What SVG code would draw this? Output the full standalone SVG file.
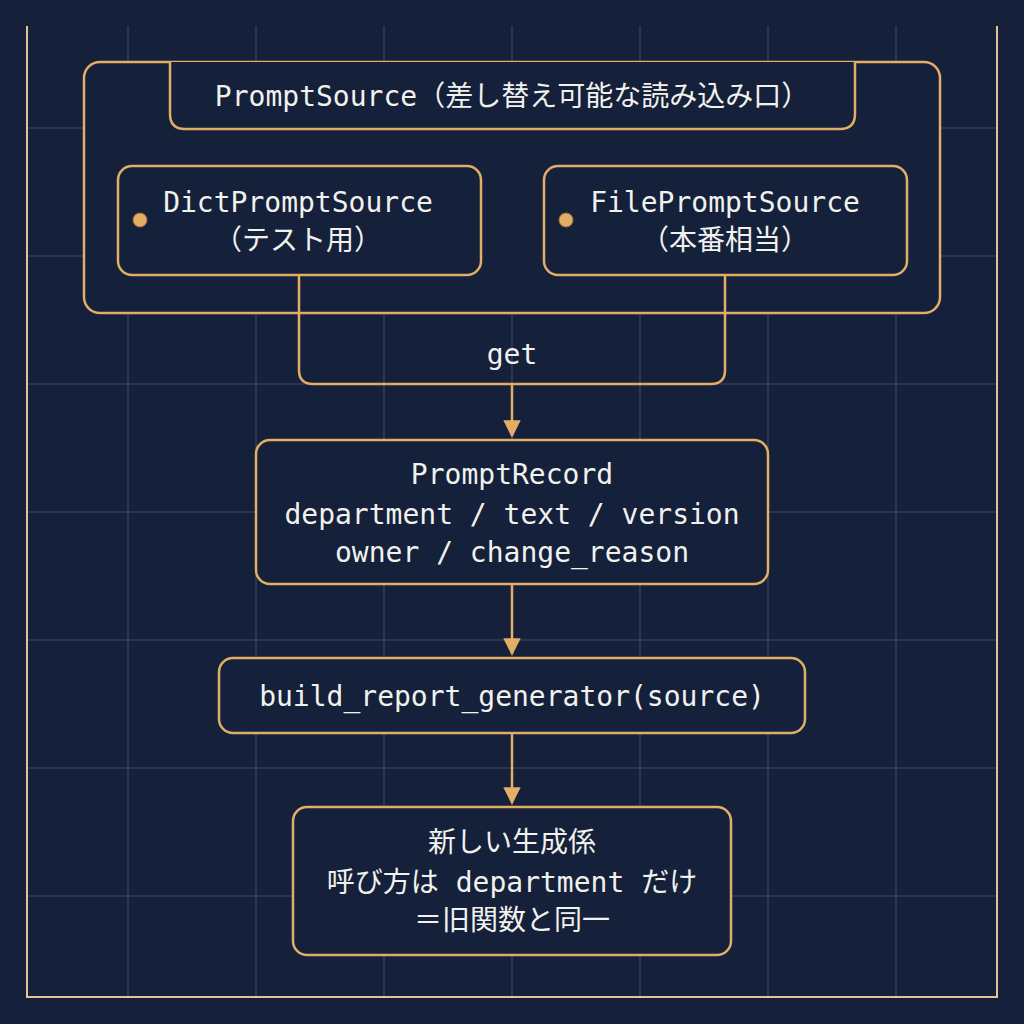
<svg xmlns="http://www.w3.org/2000/svg" width="1024" height="1024" viewBox="0 0 1024 1024">
<defs>
<style>
.n{fill:#15203a;stroke:#e3ad66;stroke-width:2.5}
.t{font-family:"DejaVu Sans Mono","Noto Sans CJK JP",monospace;font-size:28px;fill:#f1f1ee;text-anchor:middle}
.g{stroke:#3a4a66;stroke-width:1.2}
.c{fill:none;stroke:#e3ad66;stroke-width:2.5}
</style>
<marker id="a" viewBox="0 0 10 10" refX="9" refY="5" markerWidth="7" markerHeight="7" orient="auto"><path d="M0,0L10,5L0,10z" fill="#e3ad66"/></marker>
</defs>
<rect width="1024" height="1024" fill="#15203a"/>
<g id="grid">
<path class="g" d="M128 26V997M256 26V997M384 26V997M512 26V997M640 26V997M768 26V997M896 26V997M27 128H997M27 256H997M27 384H997M27 512H997M27 640H997M27 768H997M27 896H997"/>
<path d="M27 26V997H997V26" fill="none" stroke="#e3c394" stroke-width="2"/>
</g>
<g id="container">
<rect class="n" x="84" y="62" width="856" height="251" rx="16"/>
<path class="n" d="M170 62V114Q170 129 185 129H840Q855 129 855 114V62"/>
<text class="t" x="512" y="106">PromptSource（差し替え可能な読み込み口）</text>
</g>
<g id="dict">
<rect class="n" x="118" y="166" width="363" height="109" rx="14"/>
<circle cx="140" cy="220" r="7" fill="#e3ad66" stroke="#a0703a"/>
<text class="t" x="298" y="212">DictPromptSource</text>
<text class="t" x="298" y="250">（テスト用）</text>
</g>
<g id="file">
<rect class="n" x="544" y="166" width="363" height="109" rx="14"/>
<circle cx="566" cy="220" r="7" fill="#e3ad66" stroke="#a0703a"/>
<text class="t" x="725" y="212">FilePromptSource</text>
<text class="t" x="725" y="250">（本番相当）</text>
</g>
<g id="connectors">
<path class="c" d="M299 275V370Q299 384 313 384H711Q725 384 725 370V275"/>
<path class="c" d="M512 384V436" marker-end="url(#a)"/>
<path class="c" d="M512 584V654" marker-end="url(#a)"/>
<path class="c" d="M512 733V803" marker-end="url(#a)"/>
<text class="t" x="512" y="364">get</text>
</g>
<g id="record">
<rect class="n" x="256" y="440" width="512" height="144" rx="14"/>
<text class="t" x="512" y="484">PromptRecord</text>
<text class="t" x="512" y="524">department / text / version</text>
<text class="t" x="512" y="562">owner / change_reason</text>
</g>
<g id="build">
<rect class="n" x="219" y="658" width="586" height="75" rx="14"/>
<text class="t" x="512" y="706">build_report_generator(source)</text>
</g>
<g id="gen">
<rect class="n" x="293" y="807" width="438" height="148" rx="14"/>
<text class="t" x="512" y="852">新しい生成係</text>
<text class="t" x="512" y="892">呼び方は department だけ</text>
<text class="t" x="512" y="930">＝旧関数と同一</text>
</g>
</svg>
